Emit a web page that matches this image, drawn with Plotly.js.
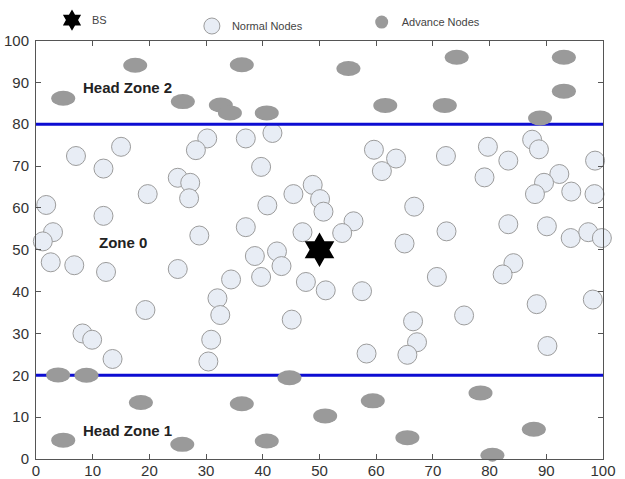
<!DOCTYPE html>
<html><head><meta charset="utf-8">
<script src="https://cdn.plot.ly/plotly-3.0.1.min.js"></script>
<style>html,body{margin:0;padding:0;background:#fff}#chart{width:625px;height:479px}</style>
</head><body><div id="chart"></div>
<script>
// Normal nodes (circles)
const normalX = [7.05,15.0,11.9,30.2,28.2,37.0,41.7,39.7,25.0,27.2,27.0,19.7,1.8,11.9,3.0,1.2,28.8,37.0,40.8,45.4,48.8,50.1,50.7,47.0,42.5,38.6,
  59.6,63.5,61.0,72.3,79.7,83.3,87.5,88.7,98.6,79.1,92.3,89.6,88.0,94.4,98.5,66.7,56.0,54.0,65.0,72.4,83.3,90.1,94.3,97.4,99.8,
  2.6,6.75,12.35,25.0,43.3,39.7,34.4,47.6,51.1,32.0,32.5,19.3,45.1,8.2,9.9,13.5,30.9,30.4,57.5,70.7,84.2,82.3,88.3,98.2,75.5,66.5,67.2,65.5,58.3,90.2];
const normalY = [72.4,74.6,69.4,76.6,73.8,76.6,77.9,69.8,67.2,66.0,62.3,63.3,60.7,58.1,54.2,52.0,53.4,55.4,60.6,63.3,65.5,62.1,59.1,54.2,49.6,48.5,
  73.9,71.8,68.8,72.4,74.6,71.3,76.3,74.0,71.3,67.3,68.1,66.0,63.3,63.9,63.3,60.3,56.8,54.0,51.5,54.4,56.1,55.6,52.8,54.2,52.8,
  47.0,46.3,44.7,45.4,46.1,43.5,42.9,42.3,40.3,38.4,34.4,35.6,33.3,30.0,28.5,23.9,28.5,23.3,40.1,43.5,46.8,44.1,37.0,38.1,34.3,32.9,27.9,24.9,25.2,27.0];

// Advance nodes (grey ellipses)
const advanceX = [4.8,17.5,25.9,32.6,34.2,36.3,40.7,55.1,61.6,74.2,93.1,93.1,72.1,88.9,
  3.9,8.9,18.5,4.8,25.8,44.7,36.3,51.0,59.4,40.7,65.5,78.4,87.8,80.5];
const advanceY = [86.2,94.1,85.4,84.6,82.7,94.2,82.7,93.3,84.5,96.0,96.0,87.9,84.5,81.5,
  20.1,20.0,13.5,4.5,3.5,19.4,13.2,10.3,13.9,4.3,5.1,15.8,7.1,0.9];

// Base station
const bsX = [50];
const bsY = [50];

// Zone boundaries and labels
const zoneBoundaries = [20, 80];
const zoneLabels = ['Head Zone 2', 'Zone 0', 'Head Zone 1'];
const zoneLabelX = [16.2, 15.3, 16.2];
const zoneLabelY = [88.8, 51.8, 6.9];

const tickVals = [0,10,20,30,40,50,60,70,80,90,100];
const tickText = ['0','10','20','30','40','50','60','70','80','90','100'];

const FONT = 'Arial, "Liberation Sans", Helvetica, sans-serif';

const traces = [
  {
    type: 'scatter', mode: 'markers', name: 'Advance Nodes', legend: 'legend3',
    x: advanceX, y: advanceY,
    marker: {symbol: 'circle', size: 13, color: '#9a9a9a', line: {width: 0}},
    cliponaxis: false
  },
  {
    type: 'scatter', mode: 'markers', name: 'Normal Nodes', legend: 'legend2',
    x: normalX, y: normalY,
    marker: {symbol: 'circle', size: 19, color: '#e8edf5', line: {width: 1, color: '#9c9c9c'}},
    cliponaxis: false
  },
  {
    type: 'scatter', mode: 'markers', name: 'BS', legend: 'legend',
    x: bsX, y: bsY,
    marker: {symbol: 'hexagram', size: 26, color: '#000', line: {width: 0}},
    cliponaxis: false
  }
];

const shapes = [];
zoneBoundaries.forEach(v => shapes.push({
  type: 'line', xref: 'paper', yref: 'y', x0: 0, x1: 1, y0: v, y1: v,
  line: {color: '#0d0dd2', width: 3}, layer: 'above'
}));
advanceX.forEach((x, i) => shapes.push({
  type: 'circle', xref: 'x', yref: 'y', xsizemode: 'pixel', ysizemode: 'pixel',
  xanchor: x, yanchor: advanceY[i], x0: -12, x1: 12, y0: -7.5, y1: 7.5,
  fillcolor: '#9a9a9a', line: {width: 0}, layer: 'above'
}));

const annotations = zoneLabels.map((t, i) => ({
  x: zoneLabelX[i], y: zoneLabelY[i], xref: 'x', yref: 'y', text: '<b>' + t + '</b>',
  xanchor: 'center', yanchor: 'middle',
  showarrow: false, font: {family: FONT, size: 15, color: '#222'}
}));

const legendBase = {
  orientation: 'h', xanchor: 'left', yanchor: 'middle', xref: 'container', yref: 'container',
  bgcolor: 'rgba(0,0,0,0)',
  font: {family: FONT, size: 11, color: '#444'}, itemsizing: 'trace'
};

const axisBase = {
  range: [0, 100], tickvals: tickVals, ticktext: tickText,
  ticks: 'inside', ticklen: 5, tickcolor: '#555', tickwidth: 1,
  showline: true, linecolor: '#555', linewidth: 1, mirror: 'ticks',
  showgrid: false, zeroline: false,
  tickfont: {family: FONT, size: 15, color: '#333'}
};

const layout = {
  width: 625, height: 479,
  margin: {l: 36, r: 22, t: 39, b: 20},
  paper_bgcolor: '#fff', plot_bgcolor: '#fff',
  xaxis: Object.assign({}, axisBase, {ticklabelstandoff: -2}),
  yaxis: Object.assign({}, axisBase, {ticklabelstandoff: 3}),
  shapes: shapes,
  annotations: annotations,
  showlegend: true,
  legend: Object.assign({}, legendBase, {x: 0.0832, y: 0.958}),
  legend2: Object.assign({}, legendBase, {x: 0.307, y: 0.9457}),
  legend3: Object.assign({}, legendBase, {x: 0.5787, y: 0.954})
};

Plotly.newPlot('chart', traces, layout, {displayModeBar: false, staticPlot: true});
</script>
</body></html>
